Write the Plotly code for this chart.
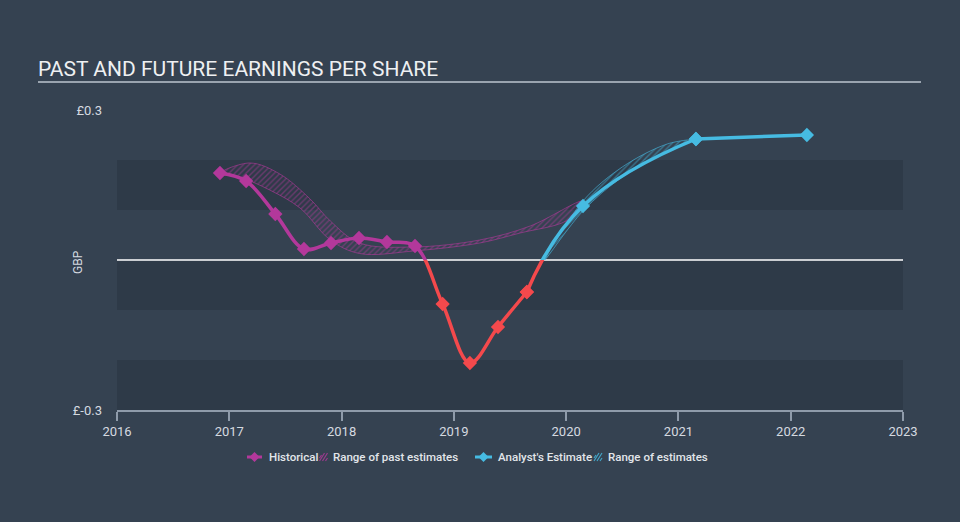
import plotly.graph_objects as go

# ---------------- data ----------------
hist_x = [2016.917, 2017.15, 2017.41, 2017.665, 2017.906, 2018.155, 2018.404, 2018.654,
          2018.90, 2019.143, 2019.393, 2019.65]
hist_y = [0.174, 0.158, 0.092, 0.022, 0.034, 0.044, 0.036, 0.028,
          -0.088, -0.206, -0.134, -0.064]

est_x = [2019.65, 2020.15, 2021.156, 2022.144]
est_y = [-0.064, 0.108, 0.242, 0.25]

past_hi_x = [2016.917, 2017.184, 2017.45, 2017.72, 2017.90, 2018.16, 2018.64, 2019.23, 2019.68, 2020.15]
past_hi_y = [0.173, 0.194, 0.172, 0.122, 0.078, 0.034, 0.026, 0.040, 0.068, 0.118]
past_lo_x = [2016.917, 2017.10, 2017.36, 2017.63, 2017.90, 2018.16, 2018.64, 2019.23, 2019.59, 2020.0, 2020.15]
past_lo_y = [0.173, 0.165, 0.140, 0.104, 0.040, 0.013, 0.018, 0.034, 0.054, 0.078, 0.110]

est_hi_x = [2019.81, 2020.15, 2020.5, 2020.9, 2021.156]
est_hi_y = [0.0, 0.118, 0.186, 0.232, 0.242]
est_lo_x = [2019.81, 2020.15, 2020.5, 2020.9, 2021.156]
est_lo_y = [0.0, 0.098, 0.166, 0.216, 0.242]

year_ticks = [2016, 2017, 2018, 2019, 2020, 2021, 2022, 2023]
y_top_tick, y_bot_tick = 0.3, -0.3
y_top_label, y_bot_label = "£0.3", "£-0.3"

title_text = "PAST AND FUTURE EARNINGS PER SHARE"
legend_items = ["Historical", "Range of past estimates", "Analyst's Estimate", "Range of estimates"]

# ---------------- style ----------------
BG = "#354251"
BAND = "#2e3a48"
MAG = "#b3389b"
RED = "#f4494c"
CYAN = "#46bbe2"
AXIS = "#8f9baa"
TXT = "#d5dae0"
FONT = "Roboto"

W, H = 960, 522
L, R, T, B = 117, 57, 110, 112
PW, PH = W - L - R, H - T - B


def pxx(px):
    return (px - L) / PW


def pxy(py):
    return (H - B - py) / PH


fig = go.Figure()

# past estimate range (upper half)
fig.add_trace(go.Scatter(
    x=past_hi_x + past_lo_x[::-1], y=past_hi_y + past_lo_y[::-1],
    mode="lines", line=dict(color="rgba(179,56,155,0.6)", width=1, shape="spline"),
    fill="toself", fillcolor="rgba(179,56,155,0.06)",
    fillpattern=dict(shape="/", fgcolor="rgba(179,56,155,0.9)", bgcolor="rgba(0,0,0,0)",
                     size=4, solidity=0.35),
    hoverinfo="skip", showlegend=False, xaxis="x", yaxis="y"))

# estimate range
fig.add_trace(go.Scatter(
    x=est_hi_x + est_lo_x[::-1], y=est_hi_y + est_lo_y[::-1],
    mode="lines", line=dict(color="rgba(70,187,226,0.6)", width=1, shape="spline"),
    fill="toself", fillcolor="rgba(70,187,226,0.12)",
    fillpattern=dict(shape="/", fgcolor="rgba(70,187,226,0.9)", bgcolor="rgba(0,0,0,0)",
                     size=4, solidity=0.35),
    hoverinfo="skip", showlegend=False, xaxis="x", yaxis="y"))

# lines: positive half (upper subplot) and negative half (lower subplot)
for yax, hcol, ecol in (("y", MAG, CYAN), ("y2", RED, RED)):
    fig.add_trace(go.Scatter(
        x=est_x[:3], y=est_y[:3], mode="lines+markers",
        line=dict(color=ecol, width=3.5, shape="spline", smoothing=1.3),
        marker=dict(symbol="diamond", size=11, color=ecol),
        showlegend=False, xaxis="x", yaxis=yax))
    fig.add_trace(go.Scatter(
        x=est_x[2:], y=est_y[2:], mode="lines+markers",
        line=dict(color=ecol, width=3.5, shape="linear"),
        marker=dict(symbol="diamond", size=11, color=ecol),
        showlegend=False, xaxis="x", yaxis=yax))
    fig.add_trace(go.Scatter(
        x=hist_x, y=hist_y, mode="lines+markers",
        line=dict(color=hcol, width=3.5, shape="spline", smoothing=1),
        marker=dict(symbol="diamond", size=11, color=hcol),
        showlegend=False, xaxis="x", yaxis=yax))

shapes = []
# darker bands
for y0, y1 in ((160, 210), (260, 310), (360, 410)):
    shapes.append(dict(type="rect", xref="paper", yref="paper", x0=0, x1=1,
                       y0=pxy(y1), y1=pxy(y0), fillcolor=BAND, line=dict(width=0), layer="below"))
# zero line
shapes.append(dict(type="line", xref="paper", yref="paper", x0=0, x1=1, y0=0.5, y1=0.5,
                   line=dict(color="white", width=1.5), layer="below"))
# title underline
shapes.append(dict(type="line", xref="paper", yref="paper", x0=pxx(38), x1=pxx(921),
                   y0=pxy(82), y1=pxy(82), line=dict(color="#9aa4af", width=2)))

# legend icons
LY = 457


def diamond(cx, color):
    return dict(type="path", xref="paper", yref="paper", xsizemode="pixel", ysizemode="pixel",
                xanchor=pxx(cx), yanchor=pxy(LY), path="M -5 0 L 0 5 L 5 0 L 0 -5 Z",
                fillcolor=color, line=dict(width=0))


def hatch(cx, color):
    return dict(type="path", xref="paper", yref="paper", xsizemode="pixel", ysizemode="pixel",
                xanchor=pxx(cx), yanchor=pxy(LY),
                path="M -4 -4 L 1 4 M -1 -4 L 4 4 M 2 -4 L 4 -1 M -4 -1 L -2 2",
                line=dict(color=color, width=1.2))


shapes.append(dict(type="line", xref="paper", yref="paper", x0=pxx(247), x1=pxx(262),
                   y0=pxy(LY), y1=pxy(LY), line=dict(color=MAG, width=3)))
shapes.append(diamond(254.5, MAG))
shapes.append(hatch(323.5, "rgba(179,56,155,0.8)"))
shapes.append(dict(type="line", xref="paper", yref="paper", x0=pxx(475), x1=pxx(492),
                   y0=pxy(LY), y1=pxy(LY), line=dict(color=CYAN, width=3)))
shapes.append(diamond(483.5, CYAN))
shapes.append(hatch(598, "rgba(70,187,226,0.8)"))

annotations = []
for text, xl in zip(legend_items, [267, 331, 496, 606]):
    annotations.append(dict(text=text, xref="paper", yref="paper", x=pxx(xl), y=pxy(LY),
                            xanchor="left", yanchor="middle", showarrow=False,
                            font=dict(family=FONT, size=11.5, color="#e2e6ea", weight=500)))
annotations.append(dict(text="GBP", xref="paper", yref="paper", x=pxx(78), y=pxy(262),
                        xanchor="center", yanchor="middle", textangle=-90, showarrow=False,
                        font=dict(family=FONT, size=12, color=TXT)))

fig.update_layout(
    width=W, height=H,
    margin=dict(l=L, r=R, t=T, b=B),
    paper_bgcolor=BG, plot_bgcolor=BG,
    showlegend=False,
    title=dict(text=title_text, x=38 / W, xref="container", xanchor="left",
               y=1 - 69 / H, yanchor="middle", yref="container",
               font=dict(family=FONT, size=21, color="#eef0f2")),
    xaxis=dict(range=[2016, 2023], tickvals=year_ticks, ticktext=[str(v) for v in year_ticks],
               showgrid=False, zeroline=False, showline=True, linecolor=AXIS, linewidth=1.5,
               ticks="outside", ticklen=9, tickcolor=AXIS, tickwidth=1.5,
               tickfont=dict(family=FONT, size=13, color=TXT), anchor="y2", domain=[0, 1]),
    yaxis=dict(range=[0, 0.3], domain=[0.5, 1], tickvals=[y_top_tick], ticktext=[y_top_label],
               showgrid=False, zeroline=False, showline=False, ticks="", anchor="x",
               ticklabelstandoff=14, tickfont=dict(family=FONT, size=13, color=TXT)),
    yaxis2=dict(range=[-0.3, 0], domain=[0, 0.5], tickvals=[y_bot_tick], ticktext=[y_bot_label],
                showgrid=False, zeroline=False, showline=False, ticks="", anchor="x",
                ticklabelstandoff=14, tickfont=dict(family=FONT, size=13, color=TXT)),
    shapes=shapes,
    annotations=annotations,
)

fig.write_html("out.html", config={"displayModeBar": False},
               post_script="document.body.style.margin='0';document.body.style.background='" + BG + "';")
